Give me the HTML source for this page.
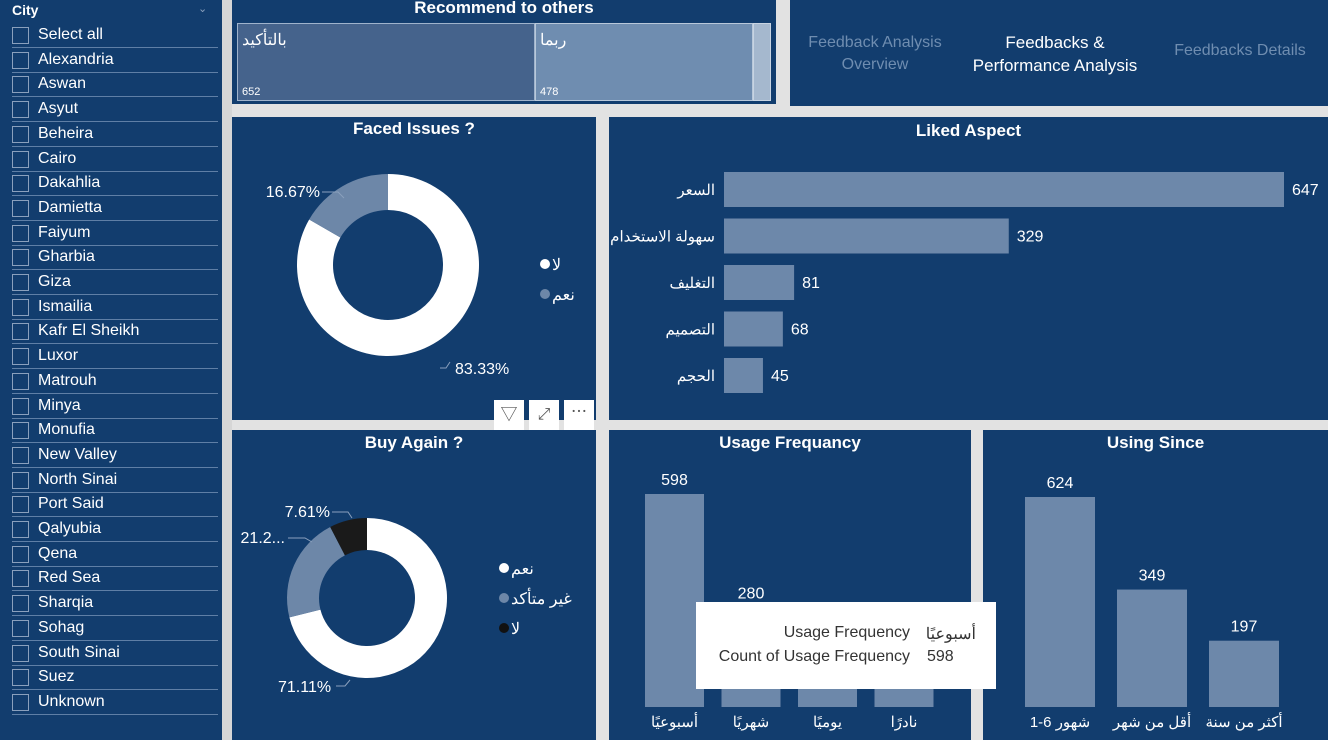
<!DOCTYPE html>
<html><head><meta charset="utf-8">
<style>
*{box-sizing:border-box;margin:0;padding:0}
body{width:1328px;height:740px;overflow:hidden;background:#e2e2e2;font-family:"Liberation Sans","Noto Sans CJK SC",sans-serif;position:relative;color:#fff}
.p{position:absolute;background:#123d6e}
.t{position:absolute;left:0;right:0;text-align:center;font-weight:bold;font-size:17px;color:#fff}
.item{position:absolute;left:12px;height:24px;width:206px;border-bottom:1px solid #5f7fa6;font-size:16px;line-height:22px;padding-left:26px}
.item i{position:absolute;left:0;top:3px;width:17px;height:17px;border:1px solid #8aa0bd}
svg text{font-family:"Liberation Sans","Noto Sans CJK SC",sans-serif}
</style></head><body>
<div class="p" style="left:0;top:0;width:222px;height:740px">
<div style="position:absolute;left:12px;top:2px;font-weight:bold;font-size:14px">City</div>
<div style="position:absolute;left:198px;top:2px;font-size:11px;color:#8aa0bd">&#8964;</div>
<div id="items"></div>
</div>
<div style="position:absolute;left:222px;top:0;width:10px;height:740px;background:#d6d6d6"></div>

<div class="p" style="left:232px;top:0;width:544px;height:104px">
<div class="t" style="top:-2px">Recommend to others</div>
<div style="position:absolute;left:5px;top:23px;width:298px;height:78px;background:#45638c;border:1px solid #9fb3cc">
<span style="position:absolute;left:4px;top:6px;font-size:16px">بالتأكيد</span><span style="position:absolute;left:4px;bottom:2px;font-size:11px">652</span></div>
<div style="position:absolute;left:303px;top:23px;width:218px;height:78px;background:#6f8db0;border:1px solid #b8c8da">
<span style="position:absolute;left:4px;top:6px;font-size:16px">ربما</span><span style="position:absolute;left:4px;bottom:2px;font-size:11px">478</span></div>
<div style="position:absolute;left:521px;top:23px;width:18px;height:78px;background:#a5b8ce;border:1px solid #c8d4e2"></div>
</div>

<div class="p" style="left:790px;top:0;width:538px;height:106px">
<div style="position:absolute;left:10px;top:32px;width:150px;text-align:center;font-size:16px;color:#6f8db0;line-height:22px">Feedback Analysis<br>Overview</div>
<div style="position:absolute;left:170px;top:31px;width:190px;text-align:center;font-size:17px;color:#fff;line-height:23px">Feedbacks &amp;<br>Performance Analysis</div>
<div style="position:absolute;left:375px;top:42px;width:150px;text-align:center;font-size:16px;color:#6f8db0">Feedbacks Details</div>
</div>

<div class="p" style="left:232px;top:117px;width:364px;height:303px">
<div class="t" style="top:2px">Faced Issues ?</div>
</div>
<div class="p" style="left:609px;top:117px;width:719px;height:303px">
<div class="t" style="top:4px">Liked Aspect</div>
</div>
<div class="p" style="left:232px;top:430px;width:364px;height:310px">
<div class="t" style="top:3px">Buy Again ?</div>
</div>
<div class="p" style="left:609px;top:430px;width:362px;height:310px">
<div class="t" style="top:3px">Usage Frequancy</div>
</div>
<div class="p" style="left:983px;top:430px;width:345px;height:310px">
<div class="t" style="top:3px">Using Since</div>
</div>

<div style="position:absolute;left:494px;top:400px;width:102px;height:30px">
<div style="position:absolute;left:0;top:0;width:30px;height:30px;background:#fff;color:#555;text-align:center;font-size:17px;line-height:30px">&#9661;</div>
<div style="position:absolute;left:35px;top:0;width:30px;height:30px;background:#fff;color:#555;text-align:center;font-size:16px;line-height:30px">&#10530;</div>
<div style="position:absolute;left:70px;top:0;width:30px;height:30px;background:#fff;color:#555;text-align:center;font-size:16px;line-height:26px">&#8943;</div>
</div>

<svg id="svg" width="1328" height="740" style="position:absolute;left:0;top:0"></svg>

<div style="position:absolute;left:696px;top:602px;width:300px;height:87px;background:#fff;color:#333;font-size:16px">
<div style="position:absolute;right:86px;top:22px">Usage Frequency</div><div dir="rtl" style="position:absolute;right:20px;top:22px;text-align:right">أسبوعيًا</div>
<div style="position:absolute;right:86px;top:46px">Count of Usage Frequency</div><div style="position:absolute;left:231px;top:46px">598</div>
</div>

<script>
const cities=["Select all","Alexandria","Aswan","Asyut","Beheira","Cairo","Dakahlia","Damietta","Faiyum","Gharbia","Giza","Ismailia","Kafr El Sheikh","Luxor","Matrouh","Minya","Monufia","New Valley","North Sinai","Port Said","Qalyubia","Qena","Red Sea","Sharqia","Sohag","South Sinai","Suez","Unknown"];
const likedCats=["السعر","سهولة الاستخدام","التغليف","التصميم","الحجم"];
const likedVals=[647,329,81,68,45];
const freqCats=["أسبوعيًا","شهريًا","يوميًا","نادرًا"];
const freqVals=[598,280,130,110];
const sinceCats=["1-6 شهور","أقل من شهر","أكثر من سنة"];
const sinceVals=[624,349,197];
const issuesCats=["لا","نعم"];
const issuesVals=[83.33,16.67];
const buyCats=["نعم","غير متأكد","لا"];
const buyVals=[71.11,21.28,7.61];

const items=document.getElementById('items');
cities.forEach((c,i)=>{const d=document.createElement('div');d.className='item';d.style.top=(24+i*24.7)+'px';d.innerHTML='<i></i>'+c;


items.appendChild(d);});

const S=document.getElementById('svg');const NS='http://www.w3.org/2000/svg';
function el(t,a,txt){const e=document.createElementNS(NS,t);for(const k in a)e.setAttribute(k,a[k]);if(txt!=null)e.textContent=txt;S.appendChild(e);return e;}
const BAR='#6d88aa';

const lx0=724,lScale=(1284-724)/647;
likedVals.forEach((v,i)=>{const y=172+i*46.5;const w=v*lScale;
const r=el('rect',{x:lx0,y:y,width:w,height:35,fill:BAR});


const t=el('text',{x:lx0+w+8,y:y+23,fill:'#fff','font-size':16},v);


const c=el('text',{x:lx0-9,y:y+23,fill:'#fff','font-size':15,'text-anchor':'end'},likedCats[i]);

});

function vbars(cats,vals,x0,step,bw,base,maxH,maxV,name){vals.forEach((v,i)=>{const h=v/maxV*maxH;const x=x0+i*step;
const r=el('rect',{x:x,y:base-h,width:bw,height:h,fill:BAR});


const t=el('text',{x:x+bw/2,y:base-h-9,fill:'#fff','font-size':16,'text-anchor':'middle'},v);


const c=el('text',{x:x+bw/2,y:727,fill:'#fff','font-size':15,'text-anchor':'middle'},cats[i]);

});}
vbars(freqCats,freqVals,645,76.5,59,707,213,598,'usage-frequency');
vbars(sinceCats,sinceVals,1025,92,70,707,210,624,'using-since');

function donut(cx,cy,R,r,vals,cols,name){let a=0;const tot=vals.reduce((s,v)=>s+v,0);vals.forEach((v,i)=>{const a1=a+v/tot*2*Math.PI;
const p=(ang,rad)=>[cx+rad*Math.sin(ang),cy-rad*Math.cos(ang)];const lg=(a1-a)>Math.PI?1:0;
const [x1,y1]=p(a,R),[x2,y2]=p(a1,R),[x3,y3]=p(a1,r),[x4,y4]=p(a,r);
const s=el('path',{d:`M${x1},${y1}A${R},${R} 0 ${lg} 1 ${x2},${y2}L${x3},${y3}A${r},${r} 0 ${lg} 0 ${x4},${y4}Z`,fill:cols[i]});


a=a1;});}
donut(388,265,91,55,issuesVals,['#ffffff','#6d87a8'],'faced-issues');
donut(367,598,80,48,buyVals,['#ffffff','#6d87a8','#1a1a1a'],'buy-again');

function lbl(x,y,t,anchor,name){const e=el('text',{x:x,y:y,fill:'#fff','font-size':16,'text-anchor':anchor||'start'},t);

}
lbl(320,197,issuesVals[1].toFixed(2)+'%','end','faced-issues-label-yes');
lbl(455,374,issuesVals[0].toFixed(2)+'%','start','faced-issues-label-no');
lbl(330,517,buyVals[2].toFixed(2)+'%','end','buy-again-label-no');
lbl(285,543,'21.2...','end','buy-again-label-unsure');
lbl(278,692,buyVals[0].toFixed(2)+'%','start','buy-again-label-yes');
el('path',{d:'M322,192H338L344,198M440,368H446L450,362M332,512H348L352,518M288,538H305L312,542M336,686H345L350,680',stroke:'#8aa0bd',fill:'none'});

function legend(x,y,cats,cols,name){cats.forEach((c,i)=>{const cy=y+i*30;
const d=el('circle',{cx:x,cy:cy,r:5,fill:cols[i]});


const t=el('text',{x:x+7,y:cy+6,fill:'#fff','font-size':16},c);

});}
legend(545,264,issuesCats,['#ffffff','#6d87a8'],'faced-issues');
legend(504,568,buyCats,['#ffffff','#6d87a8','#111'],'buy-again');
</script>
</body></html>
